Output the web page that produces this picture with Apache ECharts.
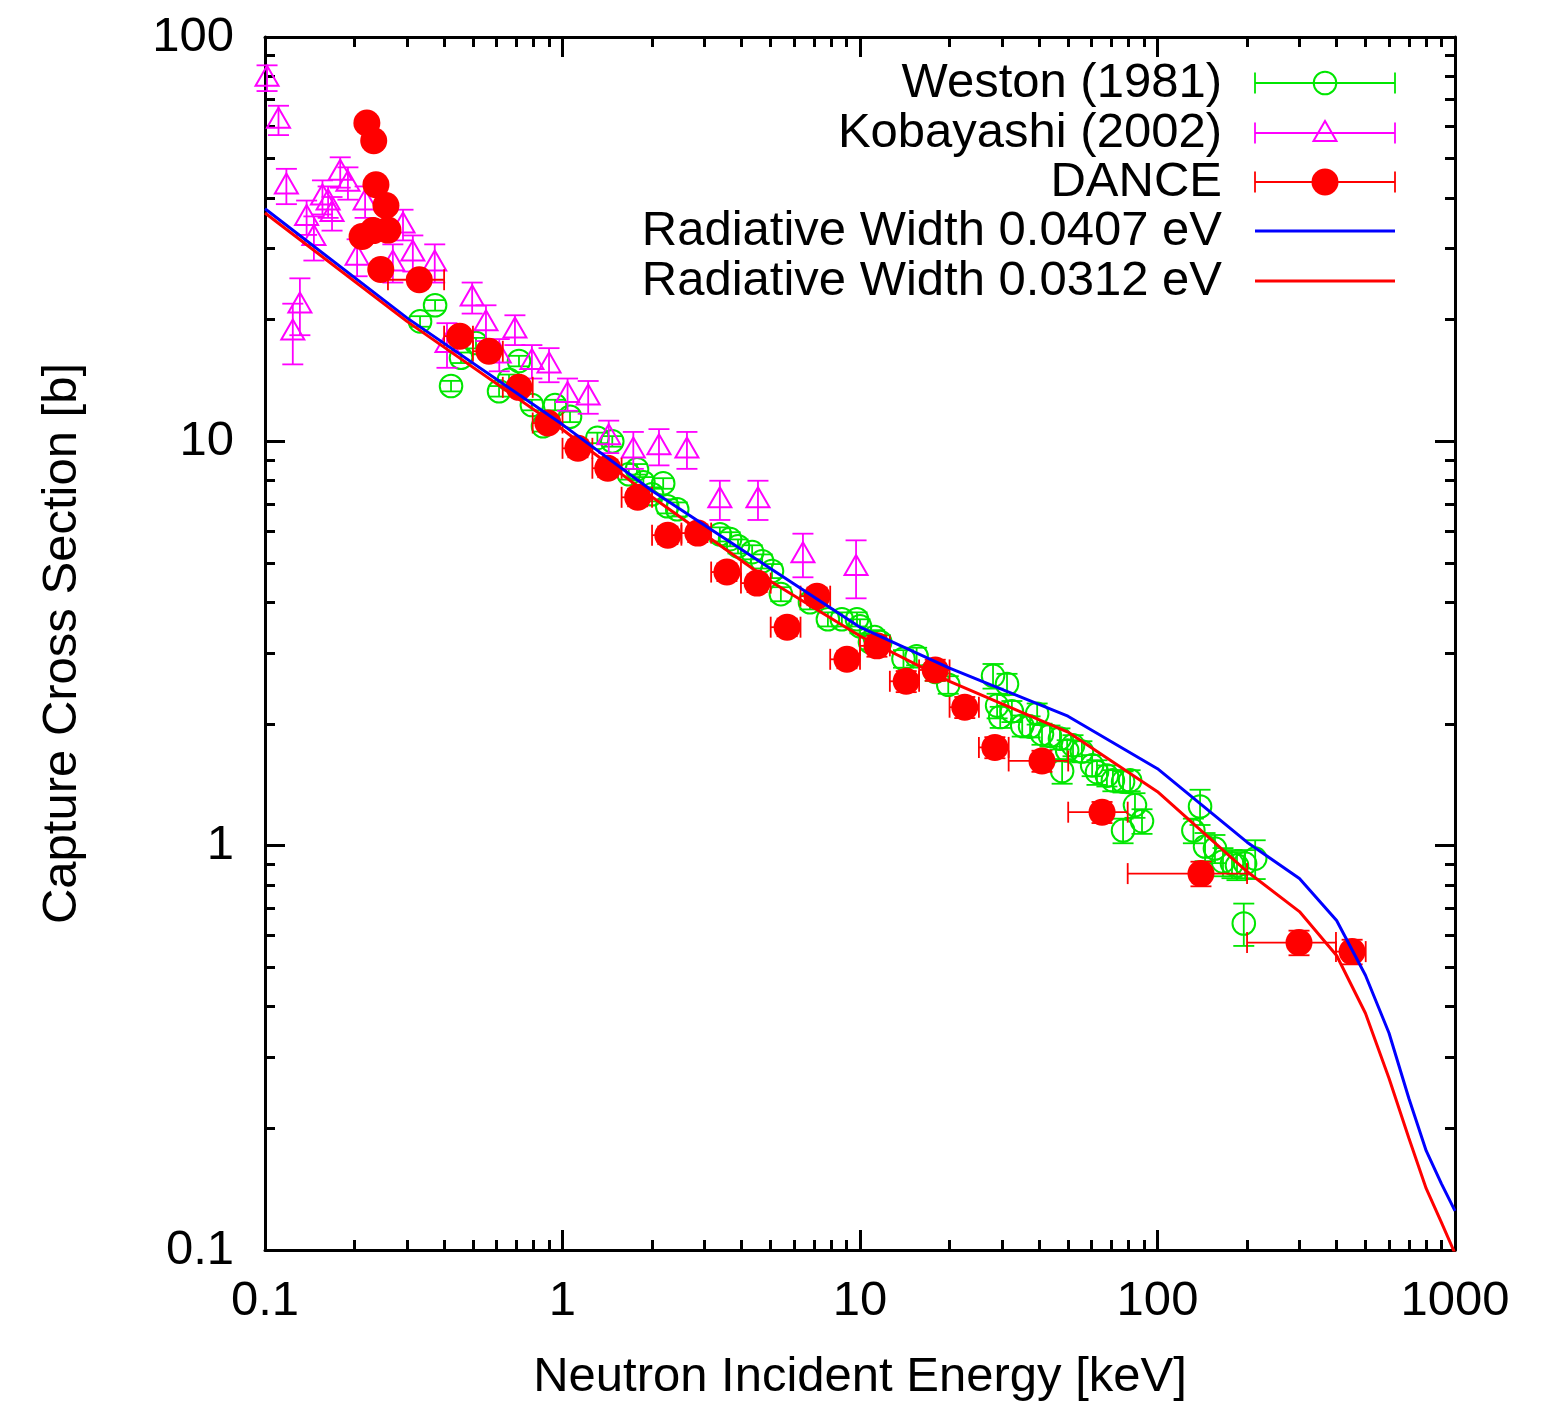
<!DOCTYPE html>
<html>
<head>
<meta charset="utf-8">
<title>Capture Cross Section</title>
<script src="https://cdn.jsdelivr.net/npm/echarts@6/dist/echarts.min.js"></script>
<style>
  html, body { margin: 0; padding: 0; background: #fff; }
  #chart { width: 1563px; height: 1407px; }
</style>
</head>
<body>
<div id="chart"></div>
<script>
// energies in keV, cross sections in barns

// Weston (1981): energy, cross section, relative error [%]
var westonE = [0.373, 0.332, 0.422, 0.456, 0.512, 0.612, 0.661, 0.714, 0.789, 0.860,
  0.944, 1.06, 1.31, 1.47, 1.67, 1.78, 1.87, 2.00, 2.18, 2.25,
  2.43, 3.38, 3.66, 3.89, 4.34, 4.69, 5.06, 5.42, 6.79, 7.80,
  8.69, 9.77, 10.0, 10.8, 11.2, 11.7, 14.0, 15.5, 17.9, 19.8,
  28.0, 31.2, 28.9, 29.6, 32.4, 35.1, 39.4, 37.3, 40.9, 43.5,
  47.0, 52.0, 47.8, 49.7, 55.7, 60.3, 62.6, 67.6, 70.8, 76.6,
  80.9, 84.0, 88.7, 76.6, 139, 132, 144.5, 156, 166, 178,
  185, 197, 213, 195];
var westonSig = [21.7, 19.8, 13.7, 16.1, 17.5, 13.3, 14.2, 15.8, 12.3, 10.9,
  12.3, 11.5, 10.2, 10.0, 8.29, 8.53, 7.92, 7.40, 7.87, 6.91,
  6.79, 5.89, 5.73, 5.50, 5.32, 5.05, 4.78, 4.19, 4.00, 3.63,
  3.63, 3.63, 3.49, 3.19, 3.28, 3.19, 2.90, 2.94, 2.69, 2.50,
  2.63, 2.51, 2.22, 2.08, 2.15, 1.98, 2.12, 1.97, 1.89, 1.87,
  1.84, 1.77, 1.53, 1.72, 1.71, 1.58, 1.52, 1.49, 1.45, 1.44,
  1.45, 1.26, 1.15, 1.09, 1.25, 1.09, 0.995, 0.984, 0.913, 0.903,
  0.893, 0.903, 0.929, 0.642];
var westonErr = [3, 3, 3, 3, 3, 3, 3, 3, 3, 3,
  3, 3, 3, 3, 3, 3, 3, 4, 3, 4,
  4, 4, 4, 4, 4, 4, 4, 4, 4, 4,
  4, 4, 4, 4, 4, 4, 5, 5, 5, 5,
  7, 6, 7, 6, 6, 6, 6, 6, 6, 6,
  6, 6, 7, 6, 6, 6, 7, 6, 6, 6,
  6, 7, 7, 7, 10, 7, 8, 8, 8, 8,
  8, 8, 11, 12];

// Kobayashi (2002): energy, cross section, absolute error [b]
var kobE = [0.1016, 0.111, 0.118, 0.131, 0.124, 0.138, 0.146, 0.156, 0.163, 0.168,
  0.179, 0.190, 0.217, 0.204, 0.291, 0.314, 0.372, 0.269, 0.497, 0.553,
  0.692, 0.409, 0.613, 0.789, 0.901, 1.04, 1.22, 1.43, 1.73, 2.11,
  2.62, 3.38, 4.54, 6.43, 9.70];
var kobSig = [79.3, 62.4, 42.9, 21.8, 18.7, 35.9, 32.0, 40.3, 39.2, 36.7,
  46.4, 43.6, 39.2, 28.6, 34.4, 29.3, 27.7, 27.7, 22.7, 19.7,
  18.9, 17.4, 16.4, 15.8, 15.5, 13.1, 12.9, 10.3, 9.55, 9.72,
  9.55, 7.19, 7.19, 5.26, 4.89];
var kobErr = [5.8, 5.2, 4.3, 3.5, 3.2, 3.5, 4.0, 3.9, 3.5, 3.5,
  4.0, 4.0, 3.5, 3.0, 3.0, 3.0, 3.0, 3.0, 2.0, 2.0,
  1.6, 2.2, 1.5, 1.5, 1.5, 1.2, 1.2, 0.95, 1.0, 1.0,
  1.0, 0.8, 0.8, 0.65, 0.8];

// DANCE: energy, cross section, energy bin edges, relative error [%]
var danceE = [0.220, 0.232, 0.236, 0.255, 0.212, 0.231, 0.259, 0.245, 0.330, 0.452,
  0.566, 0.714, 0.893, 1.127, 1.42, 1.79, 2.26, 2.85, 3.57, 4.51,
  5.69, 7.17, 9.04, 11.4, 14.3, 17.9, 22.5, 28.4, 40.9, 65.1,
  140, 299, 451];
var danceSig = [61.3, 55.4, 43.1, 38.3, 32.1, 33.2, 33.3, 26.6, 25.1, 18.2,
  16.7, 13.6, 11.1, 9.61, 8.58, 7.27, 5.86, 5.93, 4.75, 4.46,
  3.47, 4.14, 2.89, 3.12, 2.55, 2.72, 2.20, 1.75, 1.62, 1.21,
  0.853, 0.576, 0.547];
var danceELo = [0.215, 0.227, 0.231, 0.249, 0.207, 0.226, 0.253, 0.240, 0.259, 0.400,
  0.500, 0.630, 0.794, 1.00, 1.26, 1.58, 2.00, 2.51, 3.16, 3.98,
  5.01, 6.31, 7.94, 10.0, 12.6, 15.8, 20.0, 25.1, 31.6, 50.1,
  79.4, 200, 398];
var danceEHi = [0.225, 0.237, 0.241, 0.261, 0.217, 0.236, 0.265, 0.250, 0.400, 0.500,
  0.630, 0.794, 1.00, 1.26, 1.58, 2.00, 2.51, 3.16, 3.98, 5.01,
  6.31, 7.94, 10.0, 12.6, 15.8, 20.0, 25.1, 31.6, 50.1, 79.4,
  200, 398, 501];
var danceErr = [4, 4, 4, 4, 4, 4, 4, 4, 4, 4,
  4, 4, 4, 5, 5, 5, 5, 5, 5, 5,
  5, 5, 5, 6, 6, 6, 6, 6, 6, 6,
  7, 7, 7];

// calculated curves
var curveE = [0.1, 0.3, 1, 2, 5, 10, 20, 50, 100, 200, 300, 400, 500, 600, 700, 800, 900, 1000];
var width0407 = [37.6, 20.2, 11.0, 7.55, 4.85, 3.47, 2.75, 2.09, 1.55, 1.02, 0.829, 0.653, 0.478, 0.344, 0.237, 0.176, 0.146, 0.125];
var width0312 = [36.7, 19.8, 10.7, 7.28, 4.51, 3.30, 2.55, 1.91, 1.36, 0.863, 0.687, 0.535, 0.385, 0.266, 0.189, 0.142, 0.117, 0.098];

var legendNames = ['Weston (1981)', 'Kobayashi (2002)', 'DANCE',
  'Radiative Width 0.0407 eV', 'Radiative Width 0.0312 eV'];

var xMajor = [0.1, 1, 10, 100, 1000];
var yMajor = [0.1, 1, 10, 100];

var GREEN = '#00e600', MAGENTA = '#ff00ff', RED = '#ff0000', BLUE = '#0000ff';
var FONT = '"Liberation Sans", Arial, Helvetica, sans-serif';
var FS = 49;

function minorTicks(major) {
  var out = []
  for (var i = 0; i < major.length - 1; i++) {
    for (var m = 2; m <= 9; m++) out.push(major[i] * m)
  }
  return out
}
var xMinor = minorTicks(xMajor);
var yMinor = minorTicks(yMajor);

var westonData = westonE.map(function (e, i) {
  var d = westonSig[i] * westonErr[i] / 100
  return [e, westonSig[i], westonSig[i] - d, westonSig[i] + d]
});
var kobData = kobE.map(function (e, i) {
  return [e, kobSig[i], kobSig[i] - kobErr[i], kobSig[i] + kobErr[i]]
});
var danceData = danceE.map(function (e, i) {
  var d = danceSig[i] * danceErr[i] / 100
  return [e, danceSig[i], danceELo[i], danceEHi[i], danceSig[i] - d, danceSig[i] + d]
});

var CAP = 10.5;

function seg(x1, y1, x2, y2, color) {
  return { type: 'line', shape: { x1: x1, y1: y1, x2: x2, y2: y2 }, style: { stroke: color, lineWidth: 1.8 } }
}
function yBar(x, ylo, yhi, color) {
  return [seg(x, ylo, x, yhi, color), seg(x - CAP, ylo, x + CAP, ylo, color), seg(x - CAP, yhi, x + CAP, yhi, color)]
}
function xBar(xlo, xhi, y, color) {
  return [seg(xlo, y, xhi, y, color), seg(xlo, y - CAP, xlo, y + CAP, color), seg(xhi, y - CAP, xhi, y + CAP, color)]
}
function openCircle(cx, cy, color) {
  return { type: 'circle', shape: { cx: cx, cy: cy, r: 11.3 }, style: { stroke: color, lineWidth: 2, fill: 'none' } }
}
function openTriangle(cx, cy, color) {
  return {
    type: 'polygon',
    shape: { points: [[cx, cy - 12], [cx - 11.5, cy + 8], [cx + 11.5, cy + 8]] },
    style: { stroke: color, lineWidth: 2, fill: 'none' }
  }
}
function dot(cx, cy, color) {
  return { type: 'circle', shape: { cx: cx, cy: cy, r: 13.5 }, style: { fill: color, stroke: null } }
}

function renderWeston(params, api) {
  var c = api.coord([api.value(0), api.value(1)])
  var lo = api.coord([api.value(0), api.value(2)])
  var hi = api.coord([api.value(0), api.value(3)])
  return { type: 'group', children: yBar(c[0], lo[1], hi[1], GREEN).concat([openCircle(c[0], c[1], GREEN)]) }
}
function renderKob(params, api) {
  var c = api.coord([api.value(0), api.value(1)])
  var lo = api.coord([api.value(0), api.value(2)])
  var hi = api.coord([api.value(0), api.value(3)])
  return { type: 'group', children: yBar(c[0], lo[1], hi[1], MAGENTA).concat([openTriangle(c[0], c[1], MAGENTA)]) }
}
function renderDance(params, api) {
  var c = api.coord([api.value(0), api.value(1)])
  var xl = api.coord([api.value(2), api.value(1)])
  var xh = api.coord([api.value(3), api.value(1)])
  var lo = api.coord([api.value(0), api.value(4)])
  var hi = api.coord([api.value(0), api.value(5)])
  var ch = xBar(xl[0], xh[0], c[1], RED).concat(yBar(c[0], lo[1], hi[1], RED))
  ch.push(dot(c[0], c[1], RED))
  return { type: 'group', children: ch }
}

var tickStyle = { color: '#000', width: 3 };

function xAxisDef(pos, ticks, len, main) {
  return {
    type: 'log', logBase: 10, min: 0.1, max: 1000, position: pos,
    name: main && pos === 'bottom' ? 'Neutron Incident Energy [keV]' : '',
    nameLocation: 'middle', nameGap: 103,
    nameTextStyle: { fontSize: FS, fontFamily: FONT, color: '#000' },
    axisLine: { show: main, onZero: false, lineStyle: tickStyle },
    axisTick: { show: true, inside: true, length: len, lineStyle: tickStyle, customValues: ticks },
    axisLabel: {
      show: main && pos === 'bottom', customValues: xMajor, margin: 27,
      fontSize: FS, fontFamily: FONT, color: '#000',
      showMinLabel: true, showMaxLabel: true,
      formatter: function (v) { return String(+(+v).toPrecision(3)) }
    },
    splitLine: { show: false }, minorTick: { show: false }
  }
}
function yAxisDef(pos, ticks, len, main) {
  return {
    type: 'log', logBase: 10, min: 0.1, max: 100, position: pos,
    name: main && pos === 'left' ? 'Capture Cross Section [b]' : '',
    nameLocation: 'middle', nameGap: 178, nameRotate: 90,
    nameTextStyle: { fontSize: FS, fontFamily: FONT, color: '#000' },
    axisLine: { show: main, onZero: false, lineStyle: tickStyle },
    axisTick: { show: true, inside: true, length: len, lineStyle: tickStyle, customValues: ticks },
    axisLabel: {
      show: main && pos === 'left', customValues: yMajor, margin: 31,
      fontSize: FS, fontFamily: FONT, color: '#000',
      showMinLabel: true, showMaxLabel: true,
      formatter: function (v) { return String(+(+v).toPrecision(3)) }
    },
    splitLine: { show: false }, minorTick: { show: false }
  }
}

// legend drawn gnuplot style: text on the left, sample on the right
var legendY = [83, 133, 182, 231, 281];
var legendEls = [];
var LX1 = 1255, LX2 = 1395, LXM = 1325;
legendNames.forEach(function (name, i) {
  var y = legendY[i]
  legendEls.push({
    type: 'text', x: 1222, y: y,
    style: { text: name, font: FS + 'px ' + FONT, fill: '#000', align: 'right', verticalAlign: 'middle', textAlign: 'right', textVerticalAlign: 'middle' }
  })
})
xBar(LX1, LX2, legendY[0], GREEN).concat([openCircle(LXM, legendY[0], GREEN)])
  .concat(xBar(LX1, LX2, legendY[1], MAGENTA)).concat([openTriangle(LXM, legendY[1], MAGENTA)])
  .concat(xBar(LX1, LX2, legendY[2], RED)).concat([dot(LXM, legendY[2], RED)])
  .forEach(function (el) { legendEls.push(el) })
legendEls.push({ type: 'line', shape: { x1: LX1, y1: legendY[3], x2: LX2, y2: legendY[3] }, style: { stroke: BLUE, lineWidth: 3 } })
legendEls.push({ type: 'line', shape: { x1: LX1, y1: legendY[4], x2: LX2, y2: legendY[4] }, style: { stroke: RED, lineWidth: 3 } })

var chart = echarts.init(document.getElementById('chart'), null, { renderer: 'canvas' });
chart.setOption({
  animation: false,
  backgroundColor: '#fff',
  grid: { left: 265, right: 108, top: 37, bottom: 155, containLabel: false },
  xAxis: [
    xAxisDef('bottom', xMajor, 20, true),
    xAxisDef('bottom', xMinor, 10, false),
    xAxisDef('top', xMajor, 20, true),
    xAxisDef('top', xMinor, 10, false)
  ],
  yAxis: [
    yAxisDef('left', yMajor, 20, true),
    yAxisDef('left', yMinor, 10, false),
    yAxisDef('right', yMajor, 20, true),
    yAxisDef('right', yMinor, 10, false)
  ],
  graphic: { elements: [{ type: 'group', children: legendEls, z: 100 }] },
  series: [
    { name: legendNames[0], type: 'custom', renderItem: renderWeston, data: westonData, encode: { x: 0, y: 1 }, z: 2 },
    { name: legendNames[1], type: 'custom', renderItem: renderKob, data: kobData, encode: { x: 0, y: 1 }, z: 3 },
    { name: legendNames[2], type: 'custom', renderItem: renderDance, data: danceData, encode: { x: 0, y: 1 }, z: 4 },
    {
      name: legendNames[3], type: 'line', z: 5, showSymbol: false, clip: true,
      data: curveE.map(function (e, i) { return [e, width0407[i]] }),
      lineStyle: { color: BLUE, width: 3 }
    },
    {
      name: legendNames[4], type: 'line', z: 6, showSymbol: false, clip: true,
      data: curveE.map(function (e, i) { return [e, width0312[i]] }),
      lineStyle: { color: RED, width: 3 }
    }
  ]
});
</script>
</body>
</html>
